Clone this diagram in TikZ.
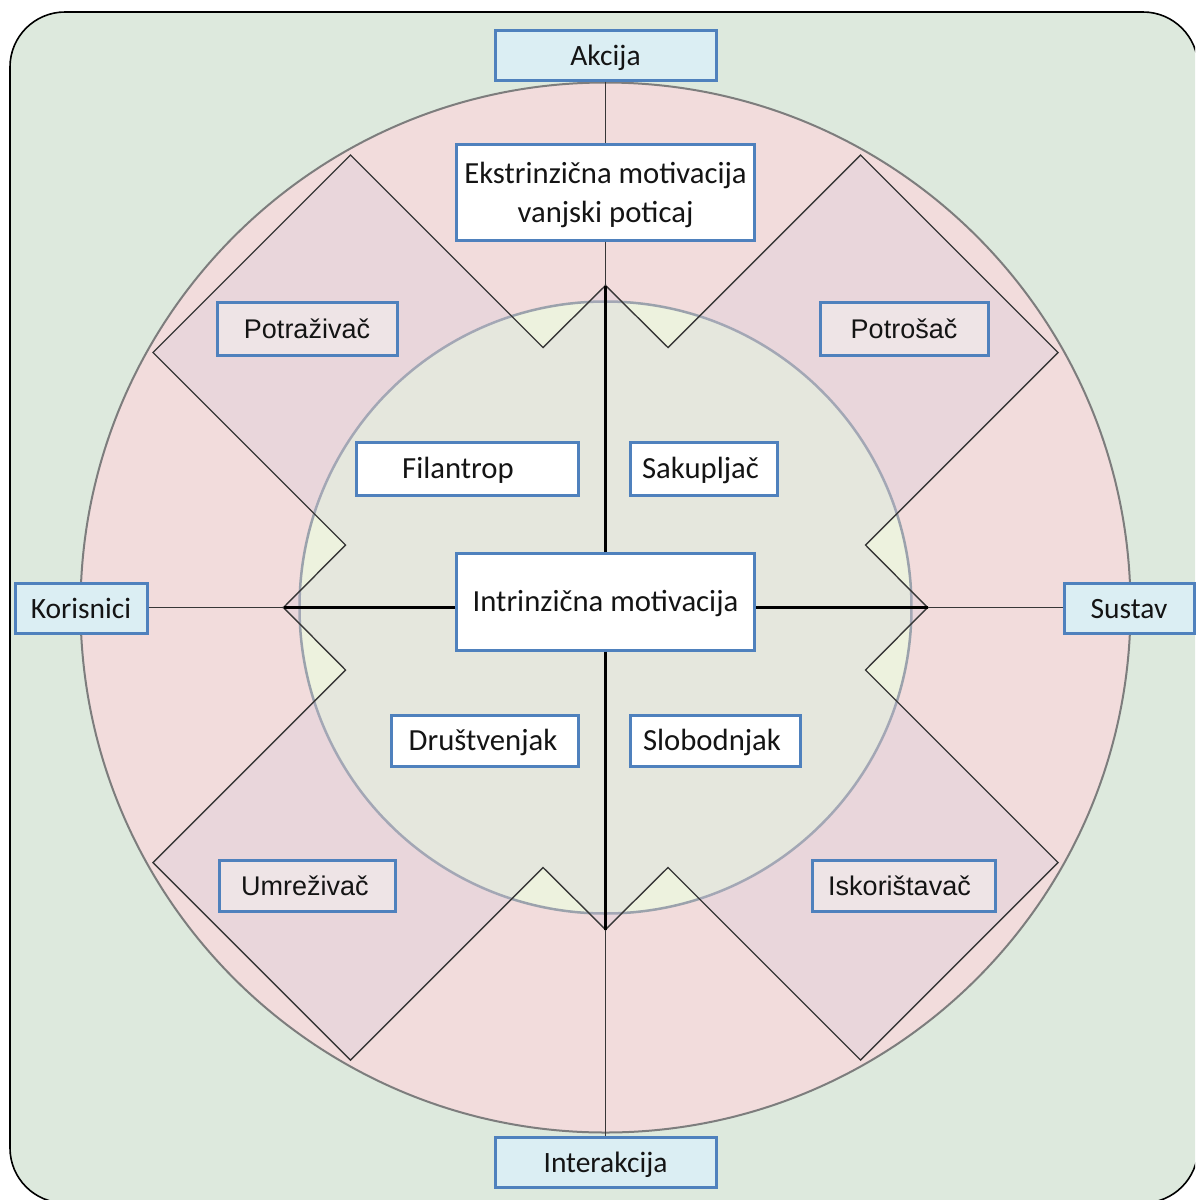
\documentclass[tikz,border=0pt]{standalone}
\usepackage{fontspec}
\setmainfont{Carlito}
\newfontfamily\arialf{Liberation Sans}
\definecolor{bggreen}{RGB}{221,233,221}
\definecolor{ringpink}{RGB}{242,220,220}
\definecolor{innergreen}{RGB}{237,242,222}
\definecolor{overlay}{RGB}{197,191,218}
\definecolor{boxblue}{RGB}{79,129,189}
\definecolor{lightblue}{RGB}{219,238,243}
\definecolor{boxpink}{RGB}{238,228,230}
\definecolor{txt}{RGB}{20,20,20}
\definecolor{ringline}{RGB}{125,125,125}
\definecolor{innerline}{RGB}{155,162,172}
\definecolor{quadline}{RGB}{55,55,55}
\tikzset{
  basebox/.style={draw=boxblue, line width=3pt, text=txt, inner sep=0pt, align=center},
  oneline/.style={text height=26pt, text depth=6pt},
  bluebox/.style={basebox, oneline, fill=lightblue, font=\fontsize{29.5}{37}\selectfont},
  whitebox/.style={basebox, oneline, fill=white, font=\fontsize{30.7}{38.5}\selectfont},
  twoline/.style={basebox, fill=white, font=\fontsize{30.7}{38.5}\selectfont},
  pinkbox/.style={basebox, oneline, fill=boxpink, font=\arialf\fontsize{27}{31}\selectfont},
  thinline/.style={draw=quadline, line width=1.4pt},
  thickline/.style={draw=black, line width=3pt},
  quad/.style={fill=overlay, fill opacity=0.2, draw=quadline, line width=1.4pt, line join=miter}
}
\begin{document}
\begin{tikzpicture}[x=1pt,y=-1pt]
\useasboundingbox (0,0) rectangle (1195,1200);
\begin{scope}
\clip (0,0) rectangle (1195,1200);
\draw[fill=bggreen, draw=black, line width=1.6pt, rounded corners=55pt] (10,12) rectangle (1198,1203);
\end{scope}
% rings
\draw[fill=ringpink, draw=ringline, line width=2pt] (605.5,607.5) circle[radius=525];
\draw[fill=innergreen, draw=innerline, line width=2.5pt] (605.5,607.5) circle[radius=306];
% quadrant shapes
\foreach \sx/\sy in {1/1,-1/1,1/-1,-1/-1}{
  \begin{scope}[shift={(605.5,607.5)}, xscale=\sx, yscale=\sy]
    \path[quad] (0,0) -- (0,322) -- (62.5,260) -- (255,452.5) -- (452.5,255) -- (260,62.5) -- (322,0) -- cycle;
  \end{scope}
}
% coordinates of apexes
\coordinate (aT) at (605.5,285.5);
\coordinate (aB) at (605.5,929.5);
\coordinate (aL) at (283.5,607.5);
\coordinate (aR) at (927.5,607.5);
% boxes
\node[bluebox, minimum width=221pt, minimum height=50pt] (akc) at (605.5,55) {Akcija};
\node[twoline, minimum width=298pt, minimum height=96pt] (ekst) at (605.5,192) {\rule{0pt}{27pt}Ekstrinzična motivacija\\vanjski poticaj};
\node[pinkbox, minimum width=180pt, minimum height=53pt] (potr) at (307,328.5) {Potraživač};
\node[pinkbox, minimum width=168pt, minimum height=53pt] (potros) at (904,328.5) {Potrošač};
\node[whitebox, minimum width=222pt, minimum height=53pt] (fil) at (467,468.5) {\hspace*{-18pt}Filantrop};
\node[whitebox, minimum width=147pt, minimum height=53pt] (sak) at (703.5,468.5) {\hspace*{-6pt}Sakupljač};
\node[bluebox, minimum width=132pt, minimum height=50pt] (kor) at (81,608) {Korisnici};
\node[whitebox, minimum width=298pt, minimum height=97pt] (intr) at (605.5,601.5) {Intrinzična motivacija};
\node[bluebox, minimum width=130pt, minimum height=50pt] (sus) at (1129,608) {Sustav};
\node[whitebox, minimum width=187pt, minimum height=51pt] (drus) at (484.5,740.5) {\hspace*{-3pt}Društvenjak};
\node[whitebox, minimum width=170pt, minimum height=51pt] (slob) at (715,740.5) {\hspace*{-6pt}Slobodnjak};
\node[pinkbox, minimum width=176pt, minimum height=51pt] (umr) at (307,885.5) {\hspace*{-4pt}Umreživač};
\node[pinkbox, minimum width=183pt, minimum height=51pt] (isk) at (903.5,885.5) {\hspace*{-8pt}Iskorištavač};
\node[bluebox, minimum width=221pt, minimum height=50pt] (inter) at (605.5,1162) {Interakcija};
% connectors
\draw[thinline] (akc.south) -- (ekst.north);
\draw[thinline] (ekst.south) -- (aT);
\draw[thickline] (aT) -- (intr.north);
\draw[thickline] (intr.south) -- (aB);
\draw[thinline] (aB) -- (inter.north);
\draw[thinline] (kor.east |- aL) -- (aL);
\draw[thickline] (aL) -- (intr.west |- aL);
\draw[thickline] (intr.east |- aR) -- (aR);
\draw[thinline] (aR) -- (sus.west |- aR);
\end{tikzpicture}
\end{document}
